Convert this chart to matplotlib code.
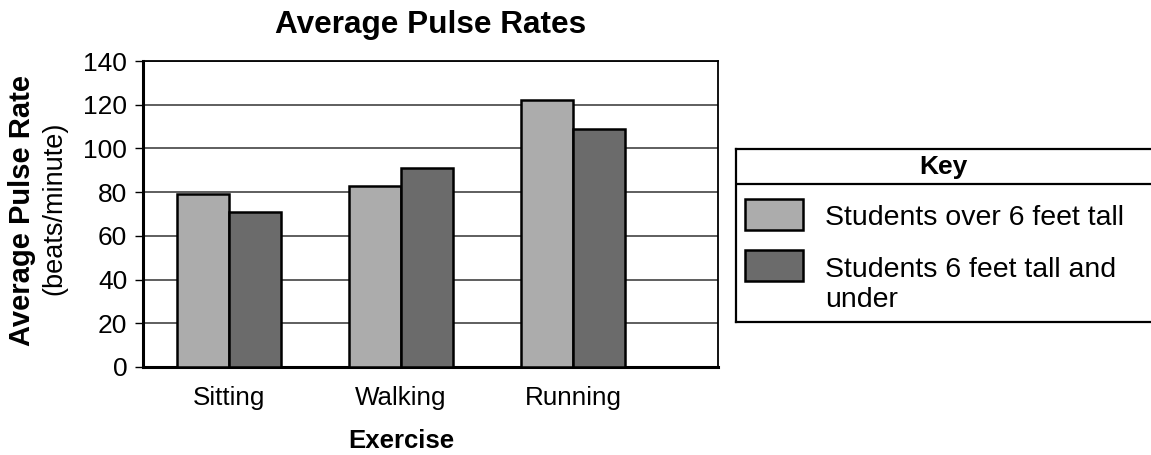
import matplotlib.pyplot as plt
import numpy as np
from matplotlib.patches import Rectangle

plt.rcParams['font.family'] = ['Liberation Sans', 'DejaVu Sans']

exercises = ['Sitting', 'Walking', 'Running']
over_6ft = [79, 83, 122]
under_6ft = [71, 91, 109]
series_labels = ['Students over 6 feet tall', 'Students 6 feet tall and\nunder']
series_colors = ['#acacac', '#6b6b6b']
y_ticks = [0, 20, 40, 60, 80, 100, 120, 140]

W, H = 1151, 455
fig = plt.figure(figsize=(W / 100, H / 100), dpi=100)
ax = fig.add_axes([143 / W, 1 - 367 / H, (718 - 143) / W, (367 - 61) / H])

x = np.arange(len(exercises))
width = 0.3
for vals, off, col in zip([over_6ft, under_6ft], [-width / 2, width / 2], series_colors):
    ax.bar(x + off, vals, width, color=col, edgecolor='black', linewidth=1.8, zorder=3)

ax.set_xlim(-0.5, 2.843)
ax.set_ylim(0, 140)
ax.set_yticks(y_ticks)
ax.set_xticks(x)
ax.set_xticklabels(exercises, fontsize=18.7)
ax.tick_params(axis='x', length=0, pad=14)
ax.tick_params(axis='y', length=5.8, width=1, pad=5.5, labelsize=19)
ax.yaxis.grid(True, color='#333333', linewidth=1.1, zorder=0)
ax.spines['left'].set_linewidth(2.2)
ax.spines['bottom'].set_linewidth(2.2)
ax.spines['right'].set_linewidth(1.3)
ax.spines['top'].set_linewidth(1.3)

ax.set_title('Average Pulse Rates', fontsize=22.7, fontweight='bold', pad=20)
# axis label sits under the middle category
ax.set_xlabel('Exercise', fontsize=18.5, fontweight='bold', labelpad=13, x=0.449)
fig.text(22 / W, 1 - 210 / H, 'Average Pulse Rate', rotation=90, fontsize=21,
         fontweight='bold', ha='center', va='center')
fig.text(54 / W, 1 - 208 / H, '(beats/minute)', rotation=90, fontsize=19.5,
         ha='center', va='center')

# key box drawn in pixel-like coordinates
lax = fig.add_axes([736 / W, 1 - 322 / H, (W - 736 + 3) / W, (322 - 149) / H])
lax.set_xlim(0, W - 736 + 3)
lax.set_ylim(322 - 149, 0)
lax.set_xticks([])
lax.set_yticks([])
for s in lax.spines.values():
    s.set_linewidth(1.6)
lax.axhline(35, color='black', linewidth=1.6)
lax.text(207, 18, 'Key', fontsize=19, fontweight='bold', ha='center', va='center')
tops = [50, 101]
baselines = [76, 128]
for lab, col, top, base in zip(series_labels, series_colors, tops, baselines):
    lax.add_patch(Rectangle((9, top), 58, 31, facecolor=col, edgecolor='black', linewidth=1.8))
    for i, line in enumerate(lab.split('\n')):
        lax.text(89, base + 30 * i, line, fontsize=20.5, ha='left', va='baseline')

fig.savefig('out.png', dpi=100)
